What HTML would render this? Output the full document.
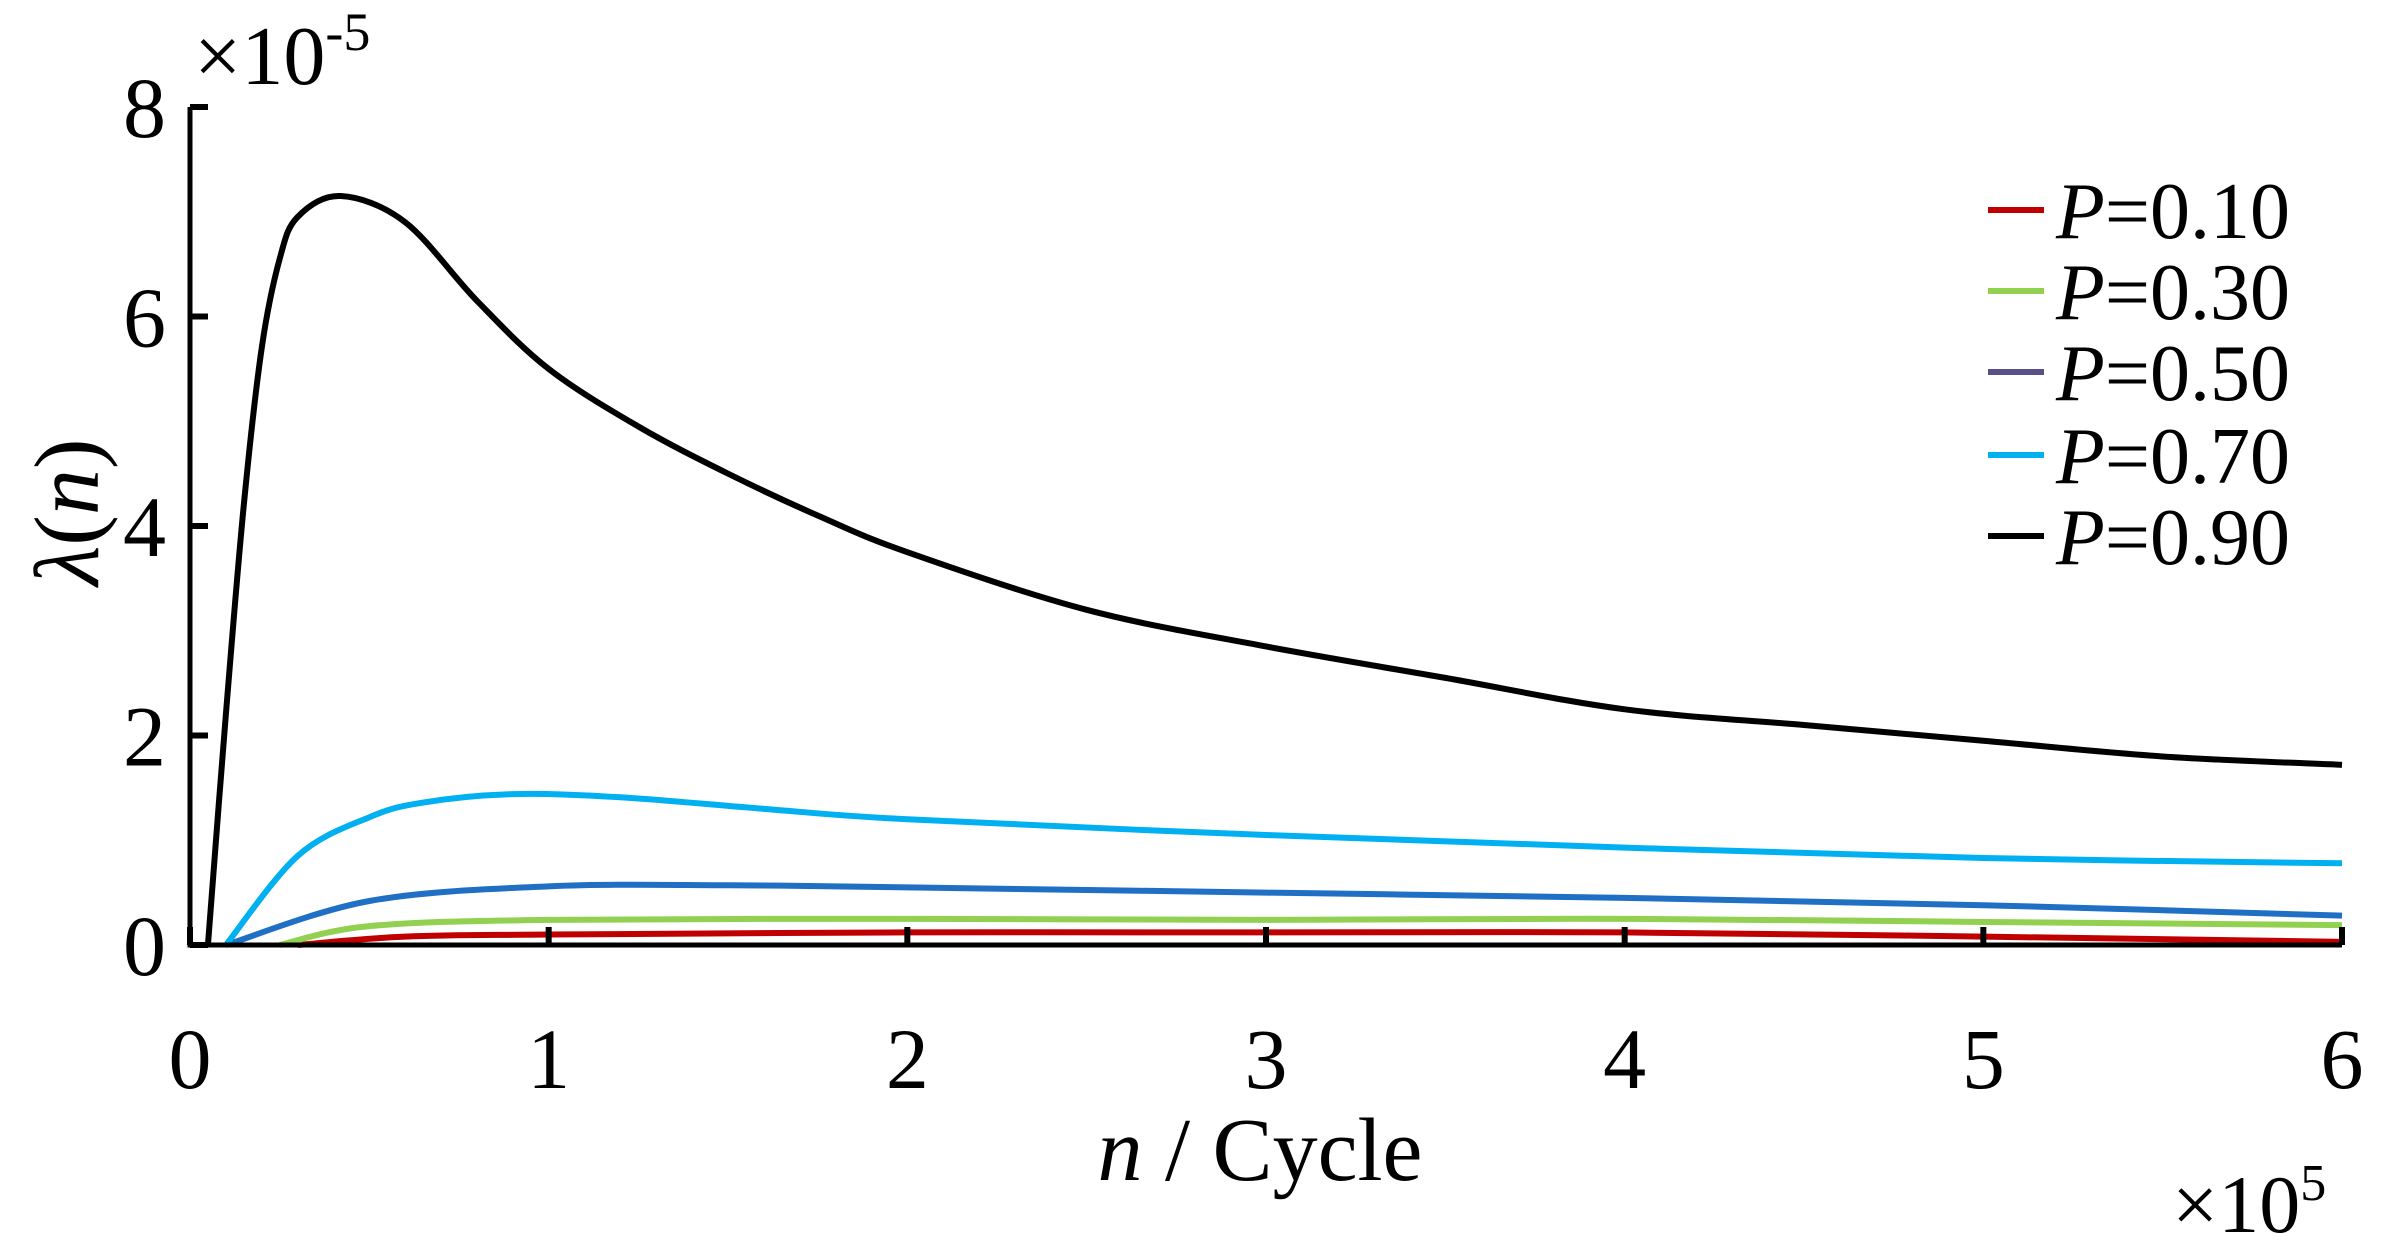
<!DOCTYPE html>
<html><head><meta charset="utf-8"><style>
html,body{margin:0;padding:0;background:#fff;}
svg{display:block;font-family:"Liberation Serif",serif;}
</style></head><body>
<svg id="chart" width="2390" height="1248" viewBox="0 0 2390 1248" xmlns="http://www.w3.org/2000/svg">
<g id="plot"></g>
<g id="axes"></g>
<text x="194" y="84" font-size="84">×10<tspan font-size="54" dy="-34">-5</tspan></text>
<text transform="translate(98,512) rotate(-90)" text-anchor="middle" font-size="92" font-style="italic">λ<tspan font-style="normal">(</tspan>n<tspan font-style="normal">)</tspan></text>
<text x="1260" y="1180" text-anchor="middle" font-size="90"><tspan font-style="italic">n</tspan> / Cycle</text>
<text x="2172" y="1232" font-size="82">×10<tspan font-size="52" dy="-32">5</tspan></text>
<g id="legend"></g>
</svg>
<script>
const xTicks = [0,1,2,3,4,5,6];
const yTicks = [0,2,4,6,8];
const seriesNames = ["P=0.10","P=0.30","P=0.50","P=0.70","P=0.90"];
const legendLabels = ["0.10","0.30","0.50","0.70","0.90"];
const redX = [0.3,0.6,1,2,3,4,5,6];
const redY = [0,0.08,0.1,0.12,0.12,0.12,0.08,0.03];
const greenX = [0.25,0.5,1,2,3,4,5,6];
const greenY = [0,0.18,0.24,0.25,0.24,0.25,0.22,0.19];
const darkBlueX = [0.1,0.5,1,1.5,2,3,4,5,6];
const darkBlueY = [0,0.42,0.56,0.57,0.55,0.5,0.45,0.38,0.28];
const lightBlueX = [0.1,0.3,0.5,0.65,0.9,1.2,1.6,2,3,4,5,6];
const lightBlueY = [0,0.85,1.22,1.36,1.44,1.41,1.3,1.2,1.05,0.93,0.83,0.78];
const blackX = [0.05,0.1,0.15,0.2,0.25,0.3,0.42,0.6,0.8,1,1.25,1.5,1.75,2,2.5,3,3.5,4,4.5,5,5.5,6];
const blackY = [0,2.2,4.2,5.7,6.55,6.95,7.15,6.9,6.15,5.5,4.95,4.5,4.1,3.75,3.2,2.85,2.55,2.25,2.1,1.95,1.8,1.72];

const X0=190, X1=2342, Y0=945, Y1=107;
const sx = v => X0 + (v-0)/(6-0)*(X1-X0);
const sy = v => Y0 - (v-0)/(8-0)*(Y0-Y1);
const NS="http://www.w3.org/2000/svg";
function mk(tag, attrs, parent){const e=document.createElementNS(NS,tag);for(const k in attrs)e.setAttribute(k,attrs[k]);parent.appendChild(e);return e;}
function path(xs,ys){
  const p=xs.map((x,i)=>[sx(x),sy(ys[i])]);
  let d=`M${p[0][0]},${p[0][1]}`;
  for(let i=0;i<p.length-1;i++){
    const a=p[Math.max(i-1,0)],b=p[i],c=p[i+1],e=p[Math.min(i+2,p.length-1)];
    const c1=[b[0]+(c[0]-a[0])/6,b[1]+(c[1]-a[1])/6], c2=[c[0]-(e[0]-b[0])/6,c[1]-(e[1]-b[1])/6];
    d+=` C${c1[0]},${c1[1]} ${c2[0]},${c2[1]} ${c[0]},${c[1]}`;
  }
  return d;
}
const plot=document.getElementById('plot');
const series=[[redX,redY,"#c00000","series-p010"],[greenX,greenY,"#92d050","series-p030"],[darkBlueX,darkBlueY,"#1f6fc4","series-p050"],[lightBlueX,lightBlueY,"#00b0f0","series-p070"],[blackX,blackY,"#000000","series-p090"]];
series.forEach(s=>{
  const e=mk('path',{d:path(s[0],s[1]),fill:"none",stroke:s[2],"stroke-width":6,"stroke-linejoin":"round"},plot);
  
  
});
const axes=document.getElementById('axes');
const ax=mk('path',{d:`M${X0},${Y1} V${Y0} H${X1}`,fill:"none",stroke:"#000","stroke-width":5},axes);


xTicks.forEach(t=>{
  const l=mk('line',{x1:sx(t),x2:sx(t),y1:Y0,y2:Y0-18,stroke:"#000","stroke-width":6},axes);
  
  
  const tx=mk('text',{x:sx(t),y:1088,"text-anchor":"middle","font-size":86},axes);
  tx.textContent=t;
  
  
});
yTicks.forEach(t=>{
  const l=mk('line',{x1:X0,x2:X0+18,y1:sy(t),y2:sy(t),stroke:"#000","stroke-width":6},axes);
  
  
  const tx=mk('text',{x:166,y:sy(t)+30,"text-anchor":"end","font-size":86},axes);
  tx.textContent=t;
  
  
});
const leg=document.getElementById('legend');
const legColors=["#c00000","#92d050","#5b4f8a","#00b0f0","#000000"];
const legY=[210,291,372,455,536];
legendLabels.forEach((lab,i)=>{
  const g=mk('g',{},leg);
  
  
  mk('line',{x1:1988,x2:2044,y1:legY[i],y2:legY[i],stroke:legColors[i],"stroke-width":6},g);
  const t=mk('text',{x:2056,y:legY[i]+28,"font-size":80},g);
  t.innerHTML=`<tspan font-style="italic">P</tspan>=${lab}`;
});
</script>
</body></html>
